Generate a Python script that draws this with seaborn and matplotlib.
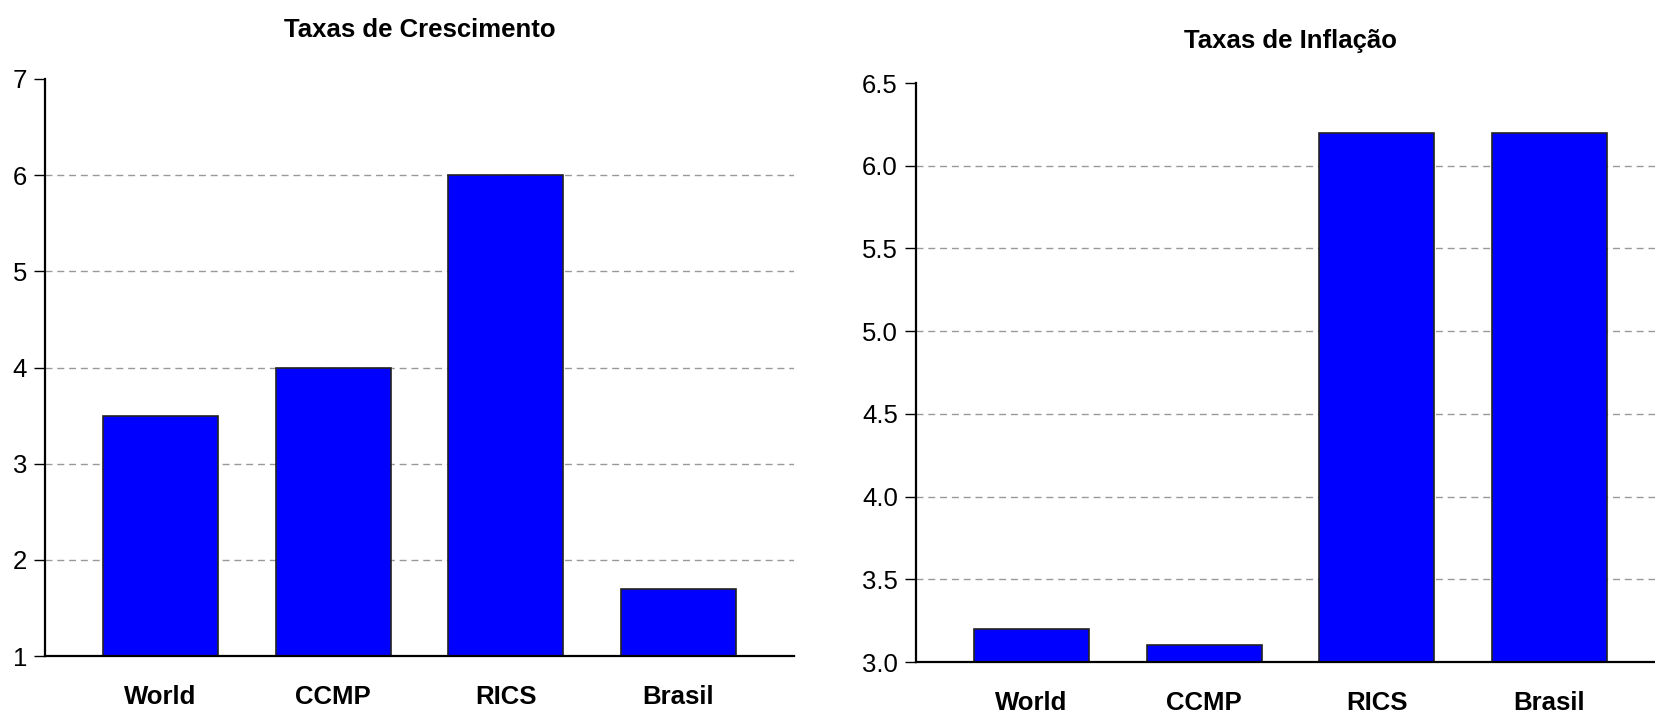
import matplotlib
matplotlib.use("Agg")
import matplotlib.pyplot as plt
import seaborn as sns
import pandas as pd

categories = ["World", "CCMP", "RICS", "Brasil"]
crescimento = [3.5, 4.0, 6.0, 1.7]
inflacao = [3.2, 3.1, 6.2, 6.2]

sns.set_style("white")
plt.rcParams["font.family"] = ["Liberation Sans", "DejaVu Sans"]
plt.rcParams["text.color"] = "black"
plt.rcParams["xtick.color"] = "black"
plt.rcParams["ytick.color"] = "black"

BLUE = "#0000FF"


def draw_panel(ax, values, ylim, yticks, yfmt, title, title_pad):
    df = pd.DataFrame({"cat": categories, "val": values})
    sns.barplot(data=df, x="cat", y="val", ax=ax, color=BLUE, width=0.667,
                saturation=1, edgecolor="#222222", linewidth=1.2)
    ax.set_xlim(-0.67, 3.67)
    ax.set_ylim(*ylim)
    ax.set_yticks(yticks)
    ax.set_yticklabels([yfmt.format(v) for v in yticks])
    ax.set_xlabel("")
    ax.set_ylabel("")
    for s in ["top", "right"]:
        ax.spines[s].set_visible(False)
    for s in ["left", "bottom"]:
        ax.spines[s].set_color("black")
        ax.spines[s].set_linewidth(1.6)
    ax.yaxis.grid(True, color="#999999", linestyle=(0, (5, 3.5)), linewidth=1)
    ax.set_axisbelow(True)
    ax.get_ygridlines()[-1].set_visible(False)
    ax.tick_params(axis="y", left=True, length=8, width=1, pad=5,
                   labelsize=18.5, color="black", labelcolor="black")
    ax.tick_params(axis="x", bottom=False, length=0, pad=21, labelsize=18.5,
                   labelcolor="black")
    for lab in ax.get_xticklabels():
        lab.set_fontweight("bold")
    ax.set_title(title, fontsize=18.5, fontweight="bold", pad=title_pad,
                 color="black")


fig = plt.figure(figsize=(16.55, 7.13), dpi=100)
ax1 = fig.add_axes([45 / 1655, 57 / 713, 749 / 1655, 577 / 713])
ax2 = fig.add_axes([916 / 1655, 51 / 713, 749 / 1655, 579 / 713])

draw_panel(ax1, crescimento, (1, 7), [1, 2, 3, 4, 5, 6, 7], "{:g}",
           "Taxas de Crescimento", 30)
draw_panel(ax2, inflacao, (3.0, 6.5), [3.0, 3.5, 4.0, 4.5, 5.0, 5.5, 6.0, 6.5],
           "{:.1f}", "Taxas de Inflação", 25.5)

fig.savefig("out.png", dpi=100)
